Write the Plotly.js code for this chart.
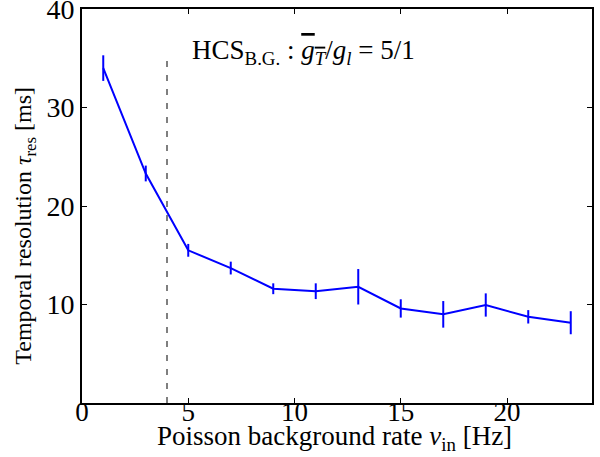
<!DOCTYPE html>
<html>
<head>
<meta charset="utf-8">
<script src="https://cdn.plot.ly/plotly-3.0.1.min.js"></script>
<style>body{margin:0;padding:0;background:#fff}#chart{width:600px;height:457px}</style>
</head>
<body>
<div id="chart"></div>
<script>
const rates = [1, 3, 5, 7, 9, 11, 13, 15, 17, 19, 21, 23];
const tauRes = [34.0, 23.3, 15.5, 13.7, 11.6, 11.35, 11.8, 9.6, 9.0, 9.95, 8.75, 8.15];
const tauErr = [1.3, 0.8, 0.65, 0.65, 0.55, 0.8, 1.8, 0.93, 1.35, 1.18, 0.68, 1.17];
const thresholdX = [4, 4];
const thresholdY = [0, 35];
const xTicks = [0, 5, 10, 15, 20];
const yTicks = [10, 20, 30, 40];

const serif = "'Liberation Serif', 'DejaVu Serif', serif";

const traces = [
  {
    x: thresholdX, y: thresholdY, mode: 'lines', type: 'scatter',
    line: {color: '#555555', width: 1.5, dash: '6px,8px'},
    hoverinfo: 'skip', showlegend: false
  },
  {
    x: rates, y: tauRes, mode: 'lines', type: 'scatter',
    line: {color: '#0000ff', width: 2},
    error_y: {type: 'data', array: tauErr, visible: true, color: '#0000ff', thickness: 2, width: 0},
    showlegend: false
  }
];

const layout = {
  width: 600, height: 457,
  margin: {l: 82, r: 8, t: 9, b: 54},
  paper_bgcolor: '#fff', plot_bgcolor: '#fff',
  font: {family: serif, color: '#000'},
  xaxis: {
    range: [0, 24], tickvals: xTicks, ticktext: xTicks.map(String),
    ticks: 'inside', ticklen: 5, tickwidth: 1, tickcolor: '#000',
    showline: true, linecolor: '#000', linewidth: 2, mirror: 'ticks',
    showgrid: false, zeroline: false, ticklabeloverflow: 'allow',
    ticklabelstandoff: -16,
    tickfont: {family: serif, size: 27, color: '#000'}
  },
  yaxis: {
    range: [0, 40], tickvals: yTicks, ticktext: yTicks.map(String),
    ticks: 'inside', ticklen: 5, tickwidth: 1, tickcolor: '#000',
    showline: true, linecolor: '#000', linewidth: 2, mirror: 'ticks',
    showgrid: false, zeroline: false, ticklabeloverflow: 'allow',
    tickfont: {family: serif, size: 28, color: '#000'}
  },
  annotations: [
    {
      xref: 'paper', yref: 'paper', x: 0.496, y: 0, yshift: -35, xanchor: 'center', yanchor: 'middle',
      showarrow: false,
      text: 'Poisson background rate <i>ν</i><sub>in</sub> [Hz]',
      font: {family: serif, size: 27, color: '#000'}
    },
    {
      xref: 'paper', yref: 'paper', x: 0, xshift: -57, y: 0.45, xanchor: 'center', yanchor: 'middle',
      textangle: -90, showarrow: false,
      text: 'Temporal resolution <i>τ</i><sub>res</sub> [ms]',
      font: {family: serif, size: 24, color: '#000'}
    },
    {
      xref: 'paper', yref: 'paper', x: 0.212, y: 0.89, xanchor: 'left', yanchor: 'middle',
      showarrow: false,
      text: "HCS<sub>B.G.</sub> : <span style='text-decoration:overline'><i>g<sub>T</sub></i></span>/<i>g<sub>l</sub></i> = 5/1",
      font: {family: serif, size: 27, color: '#000'}
    }
  ]
};

Plotly.newPlot('chart', traces, layout, {displayModeBar: false, staticPlot: true});
</script>
</body>
</html>
